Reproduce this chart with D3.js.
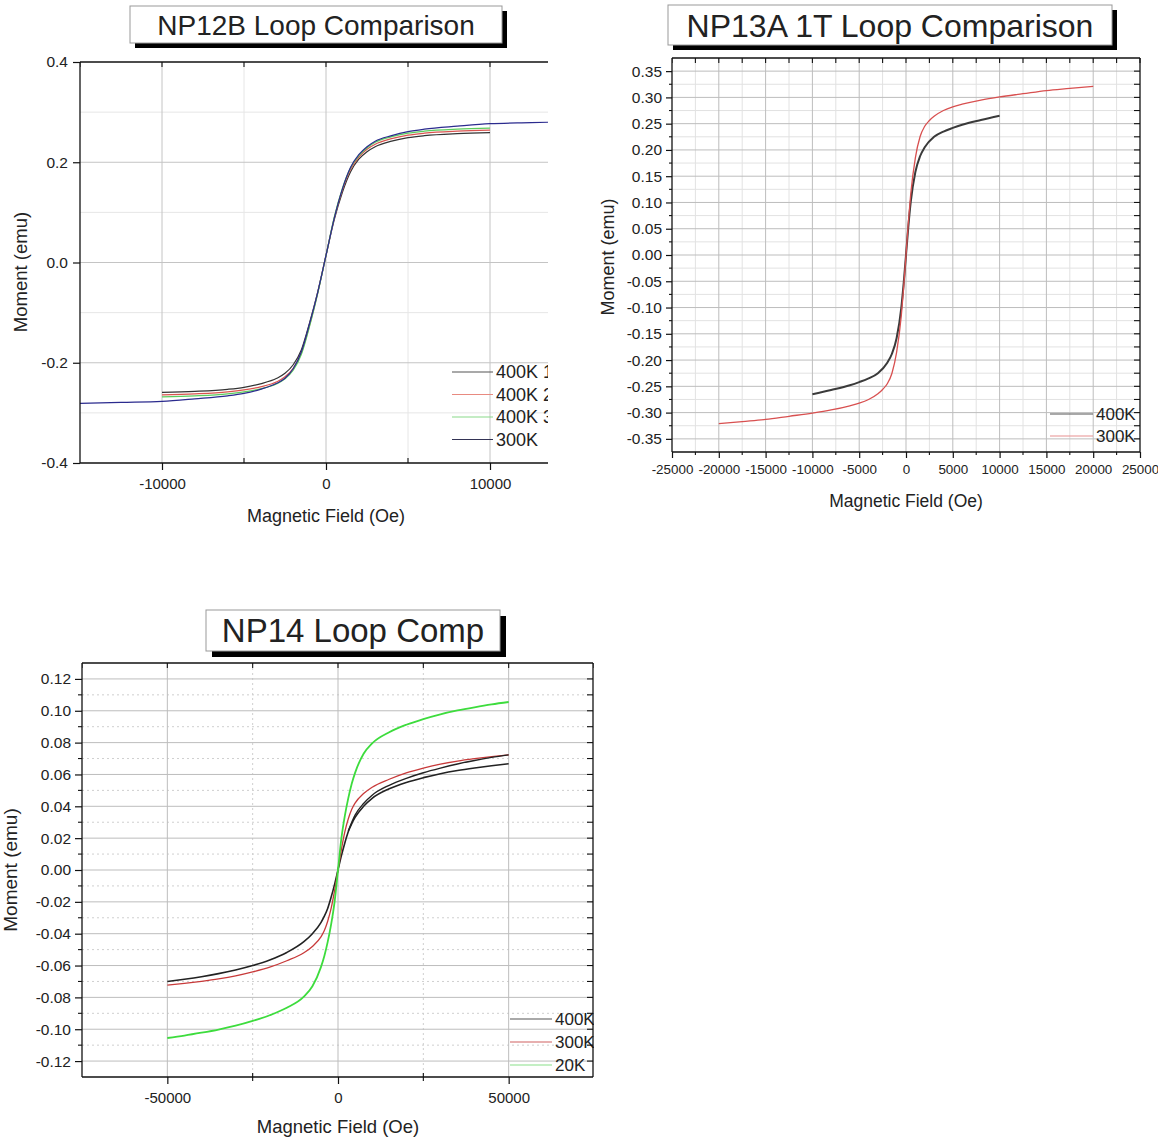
<!DOCTYPE html>
<html>
<head>
<meta charset="utf-8">
<title>Loop comparisons</title>
<script src="https://cdn.jsdelivr.net/npm/d3@7/dist/d3.min.js"></script>
<style>
  body { margin: 0; background: #fff; }
  svg text { font-family: "Liberation Sans", Arial, sans-serif; fill: #222; }
</style>
</head>
<body>
<script>
// ---- NP12B Loop Comparison ----
var np12Field = [-10000,-8000,-6000,-5000,-4000,-3000,-2500,-2000,-1500,-1000,-500,0,500,1000,1500,2000,2500,3000,4000,5000,6000,8000,10000];
var np12_400K1 = [-0.259,-0.257,-0.253,-0.249,-0.242,-0.231,-0.221,-0.204,-0.174,-0.120,-0.058,0.014,0.085,0.140,0.181,0.206,0.221,0.231,0.242,0.249,0.253,0.257,0.259];
var np12_400K2 = [-0.264,-0.262,-0.258,-0.254,-0.248,-0.238,-0.228,-0.211,-0.180,-0.125,-0.060,0.014,0.088,0.145,0.186,0.210,0.226,0.236,0.247,0.254,0.258,0.262,0.264];
var np12_400K3 = [-0.268,-0.266,-0.262,-0.258,-0.252,-0.242,-0.232,-0.215,-0.183,-0.127,-0.061,0.014,0.090,0.148,0.189,0.213,0.229,0.240,0.251,0.258,0.262,0.266,0.268];
var np12Field300 = [-15000,-12500,-10000,-8000,-6000,-5000,-4000,-3000,-2500,-2000,-1500,-1000,-500,0,500,1000,1500,2000,2500,3000,4000,5000,6000,8000,10000,12500,15000];
var np12_300K = [-0.281,-0.279,-0.277,-0.272,-0.266,-0.261,-0.253,-0.241,-0.231,-0.212,-0.178,-0.122,-0.059,0.014,0.088,0.147,0.190,0.215,0.231,0.242,0.253,0.261,0.266,0.272,0.277,0.279,0.281];
var np12XTicks = [-10000, 0, 10000];
var np12YTicks = [-0.4, -0.2, 0, 0.2, 0.4];
var np12Labels = ["400K 1", "400K 2", "400K 3", "300K"];

// ---- NP13A 1T Loop Comparison ----
var np13Field400 = [-10000,-8000,-6000,-5000,-4000,-3000,-2000,-1500,-1000,-500,-250,0,250,500,1000,1500,2000,3000,4000,5000,6000,8000,10000];
var np13_400K = [-0.265,-0.257,-0.248,-0.242,-0.235,-0.225,-0.205,-0.188,-0.158,-0.100,-0.054,0,0.054,0.100,0.158,0.188,0.205,0.225,0.235,0.242,0.248,0.257,0.265];
var np13Field300 = [-20000,-17500,-15000,-12500,-10000,-8000,-6000,-5000,-4000,-3000,-2500,-2000,-1500,-1000,-500,-250,0,250,500,1000,1500,2000,2500,3000,4000,5000,6000,8000,10000,12500,15000,17500,20000];
var np13_300K = [-0.321,-0.317,-0.313,-0.307,-0.301,-0.295,-0.287,-0.282,-0.275,-0.264,-0.256,-0.245,-0.225,-0.185,-0.115,-0.062,0,0.062,0.115,0.185,0.225,0.245,0.256,0.264,0.275,0.282,0.287,0.295,0.301,0.307,0.313,0.317,0.321];
var np13XTicks = [-25000,-20000,-15000,-10000,-5000,0,5000,10000,15000,20000,25000];
var np13YTicks = [-0.35,-0.30,-0.25,-0.20,-0.15,-0.10,-0.05,0,0.05,0.10,0.15,0.20,0.25,0.30,0.35];
var np13Labels = ["400K", "300K"];

// ---- NP14 Loop Comp ----
var np14Field = [-50000,-45000,-40000,-35000,-30000,-25000,-20000,-15000,-10000,-7500,-5000,-4000,-3000,-2000,-1000,0,1000,2000,3000,4000,5000,7500,10000,15000,20000,25000,30000,35000,40000,45000,50000];
var np14_400K = [-0.0700,-0.0686,-0.0670,-0.0651,-0.0628,-0.0600,-0.0565,-0.0518,-0.0450,-0.0400,-0.0330,-0.0290,-0.0240,-0.0170,-0.0090,0,0.009,0.017,0.024,0.029,0.033,0.040,0.045,0.051,0.055,0.058,0.0605,0.0625,0.0641,0.0655,0.0667];
// second 400K branch, rejoins the 300K curve at high field
var np14Field400b = [3000,5000,7500,10000,15000,20000,25000,30000,35000,40000,45000,50000];
var np14_400Kb = [0.0245,0.0345,0.0418,0.0470,0.0532,0.0576,0.0611,0.0640,0.0666,0.0688,0.0707,0.0723];
var np14_300K = [-0.0723,-0.0712,-0.0699,-0.0684,-0.0665,-0.0640,-0.0610,-0.0570,-0.0520,-0.0480,-0.0420,-0.0380,-0.0320,-0.0240,-0.0130,0,0.013,0.024,0.032,0.038,0.042,0.048,0.052,0.057,0.061,0.064,0.0665,0.0684,0.0699,0.0712,0.0723];
var np14_20K = [-0.1055,-0.1040,-0.1022,-0.1002,-0.0978,-0.0948,-0.0912,-0.0865,-0.0795,-0.0730,-0.0610,-0.0540,-0.0450,-0.0340,-0.0200,0,0.020,0.034,0.045,0.054,0.061,0.073,0.0795,0.0865,0.0912,0.0948,0.0978,0.1002,0.1022,0.1040,0.1055];
var np14XTicks = [-50000, 0, 50000];
var np14YTicks = [-0.12,-0.10,-0.08,-0.06,-0.04,-0.02,0,0.02,0.04,0.06,0.08,0.10,0.12];
var np14Labels = ["400K", "300K", "20K"];

var svg = d3.select("body").append("svg").attr("width", 1158).attr("height", 1141);

function fmt(dec) { return function(d) { return d3.format("." + dec + "f")(d).replace("\u2212", "-"); }; }
function fmtInt(d) { return d3.format("d")(d).replace("\u2212", "-"); }
function steps(a, b, s) { return d3.range(a, b + s / 2, s); }

function panel(c) {
  var x = d3.scaleLinear().domain(c.xDomain).range(c.xRange);
  var y = d3.scaleLinear().domain(c.yDomain).range(c.yRange);
  var g = svg.append("g");
  var x0 = c.xRange[0], x1 = c.frameRight, y0 = c.yRange[1], y1 = c.yRange[0];
  var clipId = "clip" + c.id;
  svg.append("clipPath").attr("id", clipId).append("rect")
    .attr("x", x0).attr("y", y0 - 10).attr("width", c.clipRight - x0).attr("height", y1 - y0 + 20);
  var inner = g.append("g").attr("clip-path", "url(#" + clipId + ")");

  // grid
  inner.selectAll(".gxm").data(c.xMinor).enter().append("line")
    .attr("x1", d => x(d)).attr("x2", d => x(d)).attr("y1", y0).attr("y2", y1)
    .attr("stroke", c.minorColor).attr("stroke-dasharray", c.minorDash);
  inner.selectAll(".gym").data(c.yMinor).enter().append("line")
    .attr("y1", d => y(d)).attr("y2", d => y(d)).attr("x1", x0).attr("x2", x1)
    .attr("stroke", c.minorColor).attr("stroke-dasharray", c.minorDash);
  inner.selectAll(".gx").data(c.xGrid).enter().append("line")
    .attr("x1", d => x(d)).attr("x2", d => x(d)).attr("y1", y0).attr("y2", y1)
    .attr("stroke", c.gridColor);
  inner.selectAll(".gy").data(c.yGrid).enter().append("line")
    .attr("y1", d => y(d)).attr("y2", d => y(d)).attr("x1", x0).attr("x2", x1)
    .attr("stroke", c.gridColor);

  // curves
  var line = d3.line().x(d => x(d[0])).y(d => y(d[1])).curve(d3.curveMonotoneX);
  c.series.forEach(function(s) {
    inner.append("path").datum(d3.zip(s.x, s.y))
      .attr("d", line).attr("fill", "none")
      .attr("stroke", s.color).attr("stroke-width", s.width || 1.2);
  });

  // legend
  c.labels.forEach(function(lab, i) {
    var ly = c.legend.y + i * c.legend.dy;
    inner.append("line").attr("x1", c.legend.x).attr("x2", c.legend.x + c.legend.len)
      .attr("y1", ly).attr("y2", ly).attr("stroke", c.series[i].legendColor || c.series[i].color).attr("stroke-width", 1.2);
    inner.append("text").attr("x", c.legend.x + c.legend.len + 3).attr("y", ly + c.legend.size * 0.36)
      .attr("font-size", c.legend.size).text(lab);
  });

  // frame
  var fr = g.append("g").attr("stroke", "#111").attr("stroke-width", 1.3).attr("fill", "none");
  fr.append("line").attr("x1", x0).attr("x2", x1).attr("y1", y0).attr("y2", y0);
  fr.append("line").attr("x1", x0).attr("x2", x1).attr("y1", y1).attr("y2", y1);
  fr.append("line").attr("x1", x0).attr("x2", x0).attr("y1", y0).attr("y2", y1);
  if (c.rightFrame) fr.append("line").attr("x1", x1).attr("x2", x1).attr("y1", y0).attr("y2", y1);

  // axes
  var bottom = g.append("g").attr("transform", "translate(0," + y1 + ")")
    .call(d3.axisBottom(x).tickValues(c.xTicks).tickFormat(fmtInt).tickSize(c.tick).tickPadding(c.xPad));
  var left = g.append("g").attr("transform", "translate(" + x0 + ",0)")
    .call(d3.axisLeft(y).tickValues(c.yTicks).tickFormat(fmt(c.yDec)).tickSize(c.tick).tickPadding(c.yPad));
  bottom.selectAll("text").attr("font-size", c.xTickSize);
  left.selectAll("text").attr("font-size", c.yTickSize);
  [bottom, left].forEach(function(a) {
    a.select(".domain").remove();
    a.selectAll("line").attr("stroke", "#111").attr("stroke-width", 1.2);
    a.selectAll("text").attr("font-family", "Liberation Sans, Arial, sans-serif").attr("fill", "#333");
  });

  // minor / inner ticks
  var tk = g.append("g").attr("stroke", "#111").attr("stroke-width", 1.1);
  tk.selectAll(".bm").data(c.xMinorTicks).enter().append("line")
    .attr("x1", d => x(d)).attr("x2", d => x(d)).attr("y1", y1).attr("y2", y1 + c.minorOut);
  tk.selectAll(".bin").data(c.xMinorTicks).enter().append("line")
    .attr("x1", d => x(d)).attr("x2", d => x(d)).attr("y1", y1).attr("y2", y1 - c.minorIn);
  tk.selectAll(".lm").data(c.yMinorTicks).enter().append("line")
    .attr("y1", d => y(d)).attr("y2", d => y(d)).attr("x1", x0).attr("x2", x0 - c.minorOut);
  tk.selectAll(".tp").data(c.topTicks).enter().append("line")
    .attr("x1", d => x(d)).attr("x2", d => x(d)).attr("y1", y0).attr("y2", y0 + 5)
    .attr("clip-path", "url(#" + clipId + ")");
  if (c.rightFrame) {
    tk.selectAll(".rt").data(c.rightTicks).enter().append("line")
      .attr("y1", d => y(d)).attr("y2", d => y(d)).attr("x1", x1).attr("x2", x1 - 6);
  }

  // axis titles
  g.append("text").attr("x", c.xTitle[0]).attr("y", c.xTitle[1]).attr("text-anchor", "middle")
    .attr("font-size", c.titleSize).text("Magnetic Field (Oe)");
  g.append("text").attr("transform", "translate(" + c.yTitle[0] + "," + c.yTitle[1] + ") rotate(-90)")
    .attr("text-anchor", "middle").attr("font-size", c.yTitleSize).text("Moment (emu)");

  // title box
  var b = c.box;
  g.append("rect").attr("x", b.x + b.sh).attr("y", b.y + b.sh).attr("width", b.w).attr("height", b.h).attr("fill", "#000");
  g.append("rect").attr("x", b.x).attr("y", b.y).attr("width", b.w).attr("height", b.h)
    .attr("fill", "#fff").attr("stroke", "#999").attr("stroke-width", 1);
  g.append("text").attr("x", b.x + b.w / 2).attr("y", b.y + b.h / 2 + b.size * 0.36)
    .attr("text-anchor", "middle").attr("font-size", b.size).attr("fill", "#111").text(b.text);
}

panel({
  id: 1, xDomain: [-15000, 15000], xRange: [80, 572], yDomain: [-0.4, 0.4], yRange: [463, 62],
  frameRight: 548, clipRight: 548, rightFrame: false, gridColor: "#c4c4c4",
  xGrid: [-10000, 0, 10000], yGrid: [-0.2, 0, 0.2],
  xMinor: [-5000, 5000], yMinor: [-0.3, -0.1, 0.1, 0.3], minorColor: "#e6e6e6", minorDash: null,
  xTicks: np12XTicks, yTicks: np12YTicks, yDec: 1, tick: 7, xPad: 8, yPad: 5, xTickSize: 15, yTickSize: 15.5,
  xMinorTicks: [-5000, 5000], yMinorTicks: [-0.3, -0.1, 0.1, 0.3], minorOut: 0, minorIn: 5,
  topTicks: steps(-15000, 15000, 5000), rightTicks: [],
  series: [
    { x: np12Field, y: np12_400K1, color: "#333333", legendColor: "#555" },
    { x: np12Field, y: np12_400K2, color: "#d9534f", legendColor: "#e88a80" },
    { x: np12Field, y: np12_400K3, color: "#5ccc5c", legendColor: "#8ad98a" },
    { x: np12Field300, y: np12_300K, color: "#2b2b8e", legendColor: "#333355" }
  ],
  labels: np12Labels, legend: { x: 452, y: 372, dy: 22.5, len: 41, size: 18 },
  xTitle: [326, 522], yTitle: [27, 272], titleSize: 18, yTitleSize: 18.5,
  box: { x: 130, y: 6, w: 372, h: 37, sh: 5, size: 28, text: "NP12B Loop Comparison" }
});

panel({
  id: 2, xDomain: [-25000, 25000], xRange: [672, 1140], yDomain: [-0.375, 0.375], yRange: [452, 58],
  frameRight: 1140, clipRight: 1141, rightFrame: true, gridColor: "#bdbdbd",
  xGrid: steps(-20000, 20000, 5000), yGrid: steps(-0.35, 0.35, 0.05),
  xMinor: steps(-22500, 22500, 5000), yMinor: steps(-0.325, 0.325, 0.05), minorColor: "#e2e2e2", minorDash: null,
  xTicks: np13XTicks, yTicks: np13YTicks, yDec: 2, tick: 6, xPad: 6, yPad: 4, xTickSize: 13.4, yTickSize: 15.5,
  xMinorTicks: steps(-22500, 22500, 5000), yMinorTicks: steps(-0.325, 0.325, 0.05), minorOut: 3, minorIn: 0,
  topTicks: steps(-25000, 25000, 2500), rightTicks: steps(-0.35, 0.35, 0.025),
  series: [
    { x: np13Field400, y: np13_400K, color: "#3a3a3a", width: 2, legendColor: "#555" },
    { x: np13Field300, y: np13_300K, color: "#d85050", width: 1.3, legendColor: "#e89090" }
  ],
  labels: np13Labels, legend: { x: 1050, y: 414, dy: 22, len: 43, size: 17 },
  xTitle: [906, 507], yTitle: [614, 257], titleSize: 17.5, yTitleSize: 18,
  box: { x: 668, y: 5, w: 444, h: 40, sh: 5, size: 32, text: "NP13A 1T Loop Comparison" }
});

panel({
  id: 3, xDomain: [-75000, 75000], xRange: [82, 594], yDomain: [-0.13, 0.13], yRange: [1077, 663],
  frameRight: 593, clipRight: 594, rightFrame: true, gridColor: "#bdbdbd",
  xGrid: [-50000, 0, 50000], yGrid: steps(-0.12, 0.12, 0.02),
  xMinor: [-25000, 25000], yMinor: steps(-0.11, 0.11, 0.02), minorColor: "#cfcfcf", minorDash: "2,3",
  xTicks: np14XTicks, yTicks: np14YTicks, yDec: 2, tick: 7, xPad: 8, yPad: 4, xTickSize: 15, yTickSize: 15.5,
  xMinorTicks: [-25000, 25000], yMinorTicks: steps(-0.11, 0.11, 0.02), minorOut: 4, minorIn: 4,
  topTicks: steps(-75000, 75000, 25000), rightTicks: steps(-0.12, 0.12, 0.01),
  series: [
    { x: np14Field, y: np14_400K, color: "#222222", width: 1.6, legendColor: "#555" },
    { x: np14Field, y: np14_300K, color: "#c83a3a", width: 1.3, legendColor: "#d06060" },
    { x: np14Field, y: np14_20K, color: "#3ddc3d", width: 1.8, legendColor: "#8ae08a" },
    { x: np14Field400b, y: np14_400Kb, color: "#222222", width: 1.4 }
  ],
  labels: np14Labels, legend: { x: 510, y: 1019, dy: 23, len: 42, size: 17 },
  xTitle: [338, 1133], yTitle: [17, 870], titleSize: 18.5, yTitleSize: 19,
  box: { x: 206, y: 610, w: 294, h: 41, sh: 6, size: 33, text: "NP14 Loop Comp" }
});
</script>
</body>
</html>
